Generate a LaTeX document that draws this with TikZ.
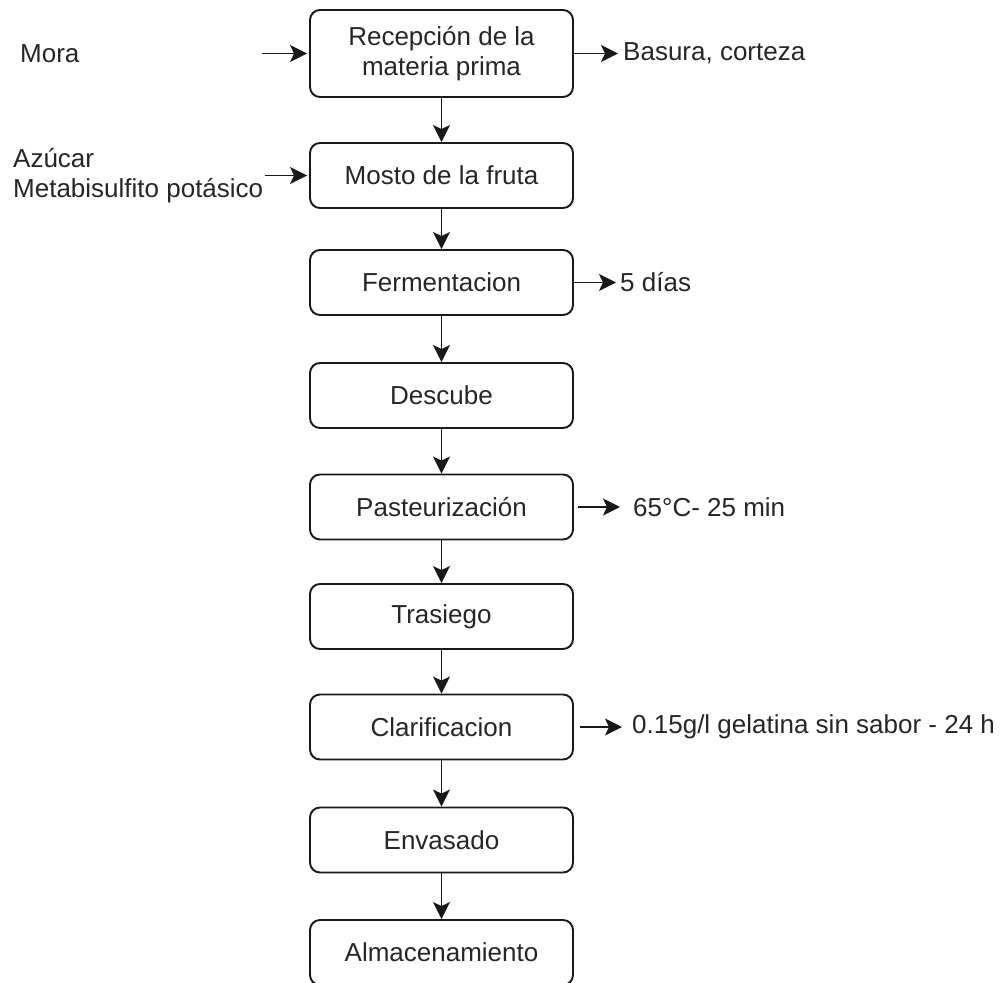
\documentclass[tikz,border=0pt]{standalone}
\usepackage{fontspec}
\setmainfont{Liberation Sans}
\usetikzlibrary{arrows.meta}
\begin{document}
\begin{tikzpicture}[x=1pt,y=-1pt,
  txt/.style={font=\fontsize{26}{30}\selectfont, text=black!85},
  proc/.style={txt, draw=black!90, line width=1.9pt, rounded corners=10pt,
    minimum width=263pt, minimum height=65pt, inner sep=0pt, align=center},
  lbl/.style={txt, anchor=west, inner sep=0pt, align=left},
  flow/.style={-{Stealth[length=17pt,width=17pt,inset=4pt]}, line width=1.9pt, draw=black!90}
]
\clip (0,0) rectangle (1000,982);
% process boxes
\node[proc, minimum height=87pt] (b1) at (441.5,53.5) {Recepción de la\\materia prima};
\node[proc] (b2) at (441.5,175.5) {Mosto de la fruta};
\node[proc] (b3) at (441.5,282.5) {Fermentacion};
\node[proc] (b4) at (441.5,395.5) {Descube};
\node[proc] (b5) at (441.5,507) {Pasteurización};
\node[proc] (b6) at (441.5,616.5) {Trasiego};
\node[proc] (b7) at (441.5,727) {Clarificacion};
\node[proc] (b8) at (441.5,840) {Envasado};
\node[proc] (b9) at (441.5,952.5) {Almacenamiento};
% side labels
\node[lbl] (mora) at (20,53.5) {Mora};
\node[lbl] (azucar) at (13,175.5) {Azúcar\\Metabisulfito potásico};
\node[lbl] (basura) at (623,53.5) {Basura, corteza};
\node[lbl] (dias) at (620,282.5) {5 días};
\node[lbl] (temp) at (633,507) {65°C- 25 min};
\node[lbl] (gel) at (632,727) {0.15g/l gelatina sin sabor - 24 h};
% free ends
\coordinate (m0) at (262,53.5);
\coordinate (a0) at (265,175.5);
% vertical flow
\draw[flow] (b1) -- (b2);
\draw[flow] (b2) -- (b3);
\draw[flow] (b3) -- (b4);
\draw[flow] (b4) -- (b5);
\draw[flow] (b5) -- (b6);
\draw[flow] (b6) -- (b7);
\draw[flow] (b7) -- (b8);
\draw[flow] (b8) -- (b9);
% inputs
\draw[flow, shorten >=2pt] (m0) -- (b1.west);
\draw[flow, shorten >=2pt] (a0) -- (b2.west);
% outputs
\draw[flow, shorten >=5pt] (b1.east) -- (basura.west);
\draw[flow, shorten >=4pt] (b3.east) -- (dias.west);
\draw[flow, shorten <=4pt, shorten >=13pt] (b5.east) -- (temp.west);
\draw[flow, shorten <=6pt, shorten >=10pt] (b7.east) -- (gel.west);
\end{tikzpicture}
\end{document}
